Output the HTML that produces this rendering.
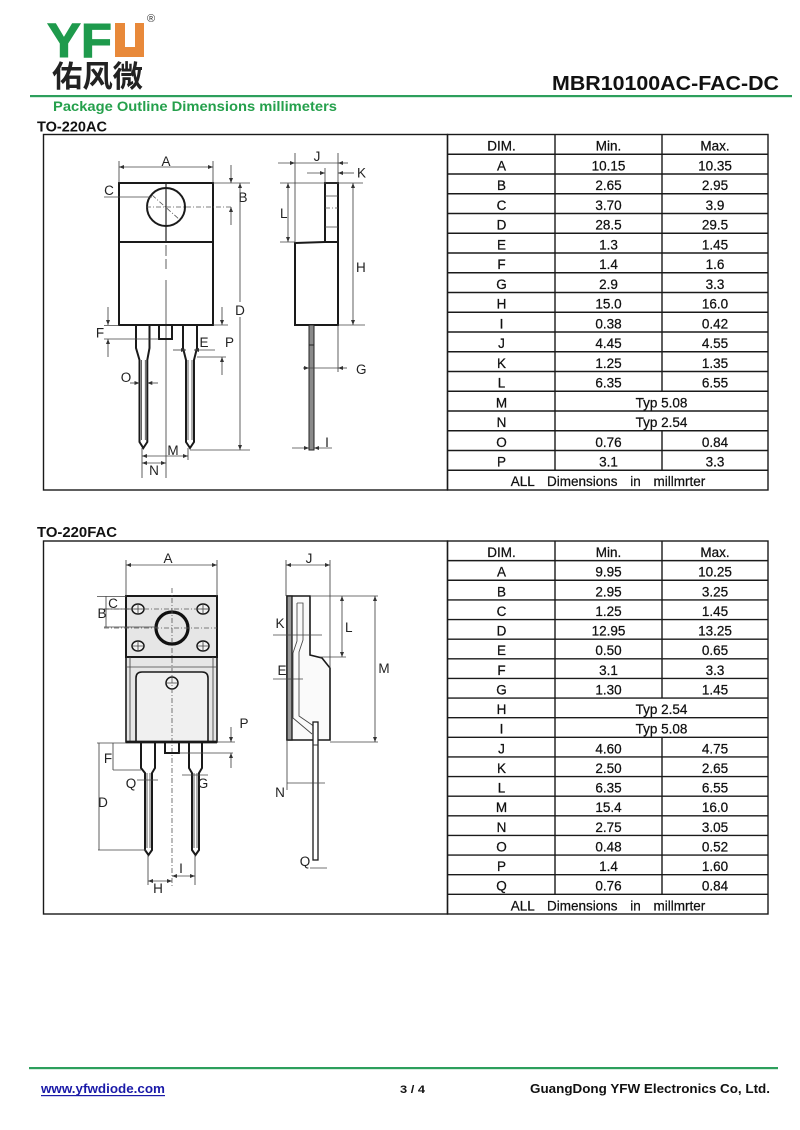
<!DOCTYPE html>
<html><head><meta charset="utf-8"><style>
html,body{margin:0;padding:0;background:#fff;}
svg{display:block;}
.o{fill:none;stroke:#1a1a1a;stroke-width:2}
.t{fill:none;stroke:#444;stroke-width:0.85}
.dd{fill:none;stroke:#555;stroke-width:0.8;stroke-dasharray:5 2 1 2}
.l{font-family:"Liberation Sans",Arial,sans-serif;font-size:13.5px;fill:#222;text-anchor:middle}
.ls{font-family:"Liberation Sans",Arial,sans-serif;font-size:13.5px;fill:#222}
.c{font-family:"Liberation Sans",Arial,sans-serif;font-size:13.5px;fill:#111;stroke:#111;stroke-width:0.25;text-anchor:middle}
.g{fill:none;stroke:#1a1a1a;stroke-width:1.4}
</style></head><body>
<svg width="800" height="1130" viewBox="0 0 800 1130" xmlns="http://www.w3.org/2000/svg">
<defs>
<marker id="a" viewBox="0 0 10 10" refX="10" refY="5" markerUnits="userSpaceOnUse" markerWidth="6" markerHeight="5" orient="auto-start-reverse"><path d="M0,1 L10,5 L0,9 z" fill="#333"/></marker>
</defs>
<rect width="800" height="1130" fill="#fff"/>

<!-- Header -->
<text x="47" y="57" font-family="Liberation Sans,Arial,sans-serif" font-size="48" font-weight="bold" fill="#1e9a4c" stroke="#1e9a4c" stroke-width="1" textLength="65" lengthAdjust="spacingAndGlyphs">YF</text>
<path d="M115,23 H125 V47 H135 V23 H144 V57 H115 Z" fill="#e8893a"/>
<text x="147" y="22" font-family="Liberation Sans,sans-serif" font-size="11" fill="#333">®</text>
<text x="52" y="87" font-family="'Liberation Sans','Noto Sans CJK SC',sans-serif" font-size="30" font-weight="bold" fill="#222" textLength="91" lengthAdjust="spacingAndGlyphs">佑风微</text>
<text x="779" y="90" text-anchor="end" font-family="Liberation Sans,Arial,sans-serif" font-size="20" font-weight="bold" fill="#111" textLength="227" lengthAdjust="spacingAndGlyphs">MBR10100AC-FAC-DC</text>
<rect x="30" y="95" width="762" height="2.2" fill="#2d9f5c"/>
<text x="53" y="111" font-family="Liberation Sans,Arial,sans-serif" font-size="14" font-weight="bold" fill="#25a04c" textLength="284" lengthAdjust="spacingAndGlyphs">Package Outline Dimensions millimeters</text>
<text x="37" y="131.5" font-family="Liberation Sans,Arial,sans-serif" font-size="14.5" font-weight="bold" fill="#111" textLength="70" lengthAdjust="spacingAndGlyphs">TO-220AC</text>
<text x="37" y="537" font-family="Liberation Sans,Arial,sans-serif" font-size="14.5" font-weight="bold" fill="#111" textLength="80" lengthAdjust="spacingAndGlyphs">TO-220FAC</text>

<!-- Boxes -->
<rect class="g" x="43.5" y="134.5" width="404" height="355.5"/>
<rect class="g" x="43.5" y="541" width="404" height="373"/>

<!-- ===== Drawing 1 front ===== -->
<rect class="o" x="119" y="183" width="94" height="59"/>
<rect class="o" x="119" y="242" width="94" height="83" stroke-width="2.8"/>
<circle class="o" cx="166" cy="207" r="19"/>
<line x1="166" y1="183" x2="166" y2="242" stroke="#222" stroke-width="1.2"/>
<path class="t" d="M166,245 V256 M166,259 V269 M166,280 V478"/>
<line class="dd" x1="152" y1="195" x2="180" y2="220"/>
<line class="dd" x1="146" y1="207" x2="232" y2="207"/>
<path class="o" stroke-width="1.6" d="M136,325 V348 L139.5,360 V442 L143.3,448 L147.3,442 V360 L149.5,348 V325"/>
<path class="t" stroke-width="1.1" d="M141.5,360 V440 M145.3,360 V440"/>
<path class="o" stroke-width="1.6" d="M183,325 V348 L186,360 V442 L190,448 L194,442 V360 L197,348 V325"/>
<path class="t" stroke-width="1.1" d="M188,360 V440 M192,360 V440"/>
<rect class="o" stroke-width="1.6" x="159" y="325" width="13" height="14"/>
<!-- A -->
<path class="t" d="M119,161 V183 M213,161 V183"/>
<line class="t" x1="119" y1="167" x2="213" y2="167" marker-start="url(#a)" marker-end="url(#a)"/>
<text class="l" x="166" y="166">A</text>
<!-- C -->
<line class="t" x1="104" y1="197" x2="152" y2="197"/>
<text class="l" x="109" y="195">C</text>
<!-- B -->
<path class="t" d="M213,183 H250"/>
<line class="t" x1="231" y1="165" x2="231" y2="183" marker-end="url(#a)"/>
<line class="t" x1="231" y1="225" x2="231" y2="207" marker-end="url(#a)"/>
<text class="l" x="243" y="202">B</text>
<!-- D -->
<line class="t" x1="240" y1="183" x2="240" y2="450" marker-start="url(#a)" marker-end="url(#a)"/>
<rect x="234" y="302" width="12" height="15" fill="#fff"/>
<text class="l" x="240" y="315">D</text>
<path class="t" d="M190,450 H250"/>
<!-- F -->
<path class="t" d="M104,325.5 H119 M104,339 H159"/>
<line class="t" x1="108" y1="307" x2="108" y2="325" marker-end="url(#a)"/>
<line class="t" x1="108" y1="357" x2="108" y2="339" marker-end="url(#a)"/>
<text class="l" x="100" y="337.5">F</text>
<!-- E -->
<line class="t" x1="173" y1="350" x2="186" y2="350" marker-end="url(#a)"/>
<line class="t" x1="215" y1="350" x2="194" y2="350" marker-end="url(#a)"/>
<text class="l" x="204" y="347">E</text>
<!-- P -->
<path class="t" d="M213,325 H228 M197,357 H226"/>
<line class="t" x1="222" y1="307" x2="222" y2="325" marker-end="url(#a)"/>
<line class="t" x1="222" y1="375" x2="222" y2="357" marker-end="url(#a)"/>
<text class="ls" x="225" y="347">P</text>
<!-- O -->
<line class="t" x1="130" y1="383" x2="139.5" y2="383" marker-end="url(#a)"/>
<line class="t" x1="158" y1="383" x2="147.3" y2="383" marker-end="url(#a)"/>
<text class="l" x="126" y="382">O</text>
<!-- M N -->
<path class="t" d="M142,448 V478 M188,448 V460"/>
<line class="t" x1="142" y1="456" x2="188" y2="456" marker-start="url(#a)" marker-end="url(#a)"/>
<text class="l" x="173" y="455">M</text>
<line class="t" x1="142" y1="463" x2="166" y2="463" marker-start="url(#a)" marker-end="url(#a)"/>
<text class="l" x="154" y="475">N</text>

<!-- ===== Drawing 1 side ===== -->
<rect class="o" x="325" y="183" width="13" height="59"/>
<path class="t" d="M325,196 H338 M325,227 H338"/>
<line class="dd" x1="325" y1="208" x2="338" y2="208"/>
<path class="o" d="M295,243 L325,242 H338 V325 H295 Z"/>
<rect x="309" y="325" width="5" height="125" fill="#8a8a8a" stroke="#222" stroke-width="1"/>
<line x1="309" y1="345" x2="314" y2="345" stroke="#222" stroke-width="1"/>
<!-- J -->
<path class="t" d="M295,153 V243 M338,153 V183"/>
<line class="t" x1="278" y1="163" x2="295" y2="163" marker-end="url(#a)"/>
<line class="t" x1="348" y1="163" x2="338" y2="163" marker-end="url(#a)"/>
<line class="t" x1="295" y1="163" x2="338" y2="163"/>
<text class="l" x="317" y="161">J</text>
<!-- K -->
<path class="t" d="M325,168 V183"/>
<line class="t" x1="307" y1="173" x2="325" y2="173" marker-end="url(#a)"/>
<line class="t" x1="354" y1="173" x2="338" y2="173" marker-end="url(#a)"/>
<text class="ls" x="357" y="177.5">K</text>
<!-- L -->
<path class="t" d="M280,183 H363 M280,242 H295"/>
<line class="t" x1="288" y1="183" x2="288" y2="242" marker-start="url(#a)" marker-end="url(#a)"/>
<text class="ls" x="287.5" y="218" text-anchor="end">L</text>
<!-- H -->
<line class="t" x1="353" y1="183" x2="353" y2="325" marker-start="url(#a)" marker-end="url(#a)"/>
<path class="t" d="M338,325 H365"/>
<text class="ls" x="356" y="272">H</text>
<!-- G -->
<path class="t" d="M338,325 V372"/>
<line class="t" x1="303" y1="368" x2="309" y2="368" marker-end="url(#a)"/>
<line class="t" x1="347" y1="368" x2="338" y2="368" marker-end="url(#a)"/>
<line class="t" x1="309" y1="368" x2="338" y2="368"/>
<text class="ls" x="356" y="374">G</text>
<!-- I -->
<line class="t" x1="292" y1="448" x2="309" y2="448" marker-end="url(#a)"/>
<line class="t" x1="332" y1="448" x2="314" y2="448" marker-end="url(#a)"/>
<text class="l" x="327" y="447">I</text>

<!-- ===== Drawing 2 front ===== -->
<rect x="126" y="596" width="91" height="146" fill="#e6e6e6" stroke="#1a1a1a" stroke-width="1.6"/>
<rect class="o" x="126" y="596" width="91" height="61" stroke-width="2.8"/>
<path class="t" d="M126,667 H217 M130,657 V742 M213,657 V742"/>
<path d="M136,742 V678 Q136,672 142,672 H202 Q208,672 208,678 V742" fill="#f0f0f0" stroke="#1a1a1a" stroke-width="1.6"/>
<line x1="126" y1="742" x2="217" y2="742" stroke="#1a1a1a" stroke-width="2.8"/>
<g fill="#f3f3f3" stroke="#1a1a1a" stroke-width="1.5">
<ellipse cx="138" cy="609" rx="6" ry="5"/><ellipse cx="203" cy="609" rx="6" ry="5"/>
<ellipse cx="138" cy="646" rx="6" ry="5"/><ellipse cx="203" cy="646" rx="6" ry="5"/>
<circle cx="172" cy="683" r="6"/>
</g>
<path class="t" d="M133,609 H143 M138,605 V613 M198,609 H208 M203,605 V613 M133,646 H143 M138,642 V650 M198,646 H208 M203,642 V650 M167,683 H177"/>
<circle cx="172" cy="628" r="16" fill="none" stroke="#111" stroke-width="3.2"/>
<line class="dd" x1="172" y1="588" x2="172" y2="888"/>
<line class="dd" x1="104" y1="628" x2="217" y2="628"/>
<line class="dd" x1="104" y1="609" x2="210" y2="609"/>
<path class="o" stroke-width="1.6" d="M141,742 V768 L145,773 V850 L148.5,855 L152,850 V773 L155,768 V742"/>
<path class="t" d="M147,773 V848 M150,773 V848"/>
<path class="o" stroke-width="1.6" d="M189,742 V768 L192,773 V850 L195.5,855 L199,850 V773 L202,768 V742"/>
<path class="t" d="M194,773 V848 M197,773 V848"/>
<rect class="o" stroke-width="1.6" x="165" y="742" width="14" height="11"/>
<!-- A -->
<path class="t" d="M126,560 V596 M217,560 V596"/>
<line class="t" x1="126" y1="565" x2="217" y2="565" marker-start="url(#a)" marker-end="url(#a)"/>
<text class="l" x="168" y="563">A</text>
<!-- C B -->
<path class="t" d="M97,596.5 H126 M104,609 H132 M104,627 H157 M106,596 V627"/>
<text class="l" x="113" y="608">C</text>
<text class="l" x="102" y="618">B</text>
<!-- F D -->
<path class="t" d="M97,743 H126 M113,770 H141 M98,850 H146 M113,743 V770 M99,743 V850"/>
<text class="l" x="108" y="763">F</text>
<text class="l" x="103" y="807">D</text>
<!-- Q G -->
<line class="t" x1="137" y1="780" x2="158" y2="780"/>
<text class="l" x="131" y="788">Q</text>
<line class="t" x1="182" y1="775" x2="208" y2="775"/>
<text class="l" x="203" y="788">G</text>
<!-- P -->
<path class="t" d="M217,742 H235 M179,753 H233"/>
<line class="t" x1="231" y1="727" x2="231" y2="742" marker-end="url(#a)"/>
<line class="t" x1="231" y1="768" x2="231" y2="753" marker-end="url(#a)"/>
<text class="l" x="244" y="728">P</text>
<!-- H I -->
<path class="t" d="M148,855 V885 M195,855 V885"/>
<line class="t" x1="148" y1="881" x2="172" y2="881" marker-start="url(#a)" marker-end="url(#a)"/>
<line class="t" x1="172" y1="876" x2="195" y2="876" marker-start="url(#a)" marker-end="url(#a)"/>
<text class="l" x="158" y="893">H</text>
<text class="l" x="181" y="873">I</text>

<!-- ===== Drawing 2 side ===== -->
<path d="M287,596 H310 V655 L322,658 L330,668 V740 H287 Z" fill="#fafafa" stroke="#1a1a1a" stroke-width="1.6"/>
<rect x="287" y="596" width="5" height="144" fill="#9a9a9a" stroke="#1a1a1a" stroke-width="1.3"/>
<path class="t" stroke-width="1" d="M297,603 H303 V640 L299,652 V716 L318,729 M297,603 V641 L293,653 V718 L312,734"/>
<rect x="313" y="722" width="5" height="138" fill="#fff" stroke="#1a1a1a" stroke-width="1.3"/>
<line x1="313" y1="745" x2="318" y2="745" stroke="#333" stroke-width="1"/>
<!-- J -->
<path class="t" d="M286,560 V596 M330,560 V668"/>
<line class="t" x1="286" y1="565" x2="330" y2="565" marker-start="url(#a)" marker-end="url(#a)"/>
<text class="l" x="309" y="563">J</text>
<!-- L -->
<line class="t" x1="342" y1="596" x2="342" y2="657" marker-start="url(#a)" marker-end="url(#a)"/>
<path class="t" d="M320,657 H346"/>
<text class="ls" x="345" y="632">L</text>
<!-- M -->
<path class="t" d="M310,596 H378 M330,742 H378"/>
<line class="t" x1="375" y1="596" x2="375" y2="742" marker-start="url(#a)" marker-end="url(#a)"/>
<text class="l" x="384" y="673">M</text>
<!-- K E -->
<line class="t" x1="273" y1="635" x2="322" y2="635"/>
<text class="l" x="280" y="628">K</text>
<line class="t" x1="273" y1="679" x2="303" y2="679"/>
<text class="l" x="282" y="675">E</text>
<!-- N -->
<path class="t" d="M287,740 V790"/>
<line class="t" x1="287" y1="783" x2="325" y2="783"/>
<text class="l" x="280" y="797">N</text>
<!-- Q -->
<line class="t" x1="310" y1="868" x2="327" y2="868"/>
<text class="l" x="305" y="866">Q</text>

<!-- ===== Table 1 ===== -->
<g class="g">
<rect x="447.5" y="134.5" width="320.5" height="355.5"/>
<path d="M447.5,154.25 H768 M447.5,174 H768 M447.5,193.75 H768 M447.5,213.5 H768 M447.5,233.25 H768 M447.5,253 H768 M447.5,272.75 H768 M447.5,292.5 H768 M447.5,312.25 H768 M447.5,332 H768 M447.5,351.75 H768 M447.5,371.5 H768 M447.5,391.25 H768 M447.5,411 H768 M447.5,430.75 H768 M447.5,450.5 H768 M447.5,470.25 H768"/>
<path d="M555,134.5 V470.25 M662,134.5 V391.25 M662,430.75 V470.25"/>
</g>
<g class="c">
<text x="501.5" y="150.5">DIM.</text><text x="608.5" y="150.5">Min.</text><text x="715" y="150.5">Max.</text>
<text x="501.5" y="170.25">A</text><text x="608.5" y="170.25">10.15</text><text x="715" y="170.25">10.35</text>
<text x="501.5" y="190">B</text><text x="608.5" y="190">2.65</text><text x="715" y="190">2.95</text>
<text x="501.5" y="209.75">C</text><text x="608.5" y="209.75">3.70</text><text x="715" y="209.75">3.9</text>
<text x="501.5" y="229.5">D</text><text x="608.5" y="229.5">28.5</text><text x="715" y="229.5">29.5</text>
<text x="501.5" y="249.25">E</text><text x="608.5" y="249.25">1.3</text><text x="715" y="249.25">1.45</text>
<text x="501.5" y="269">F</text><text x="608.5" y="269">1.4</text><text x="715" y="269">1.6</text>
<text x="501.5" y="288.75">G</text><text x="608.5" y="288.75">2.9</text><text x="715" y="288.75">3.3</text>
<text x="501.5" y="308.5">H</text><text x="608.5" y="308.5">15.0</text><text x="715" y="308.5">16.0</text>
<text x="501.5" y="328.25">I</text><text x="608.5" y="328.25">0.38</text><text x="715" y="328.25">0.42</text>
<text x="501.5" y="348">J</text><text x="608.5" y="348">4.45</text><text x="715" y="348">4.55</text>
<text x="501.5" y="367.75">K</text><text x="608.5" y="367.75">1.25</text><text x="715" y="367.75">1.35</text>
<text x="501.5" y="387.5">L</text><text x="608.5" y="387.5">6.35</text><text x="715" y="387.5">6.55</text>
<text x="501.5" y="407.25">M</text><text x="661.5" y="407.25">Typ 5.08</text>
<text x="501.5" y="427">N</text><text x="661.5" y="427">Typ 2.54</text>
<text x="501.5" y="446.75">O</text><text x="608.5" y="446.75">0.76</text><text x="715" y="446.75">0.84</text>
<text x="501.5" y="466.5">P</text><text x="608.5" y="466.5">3.1</text><text x="715" y="466.5">3.3</text>
<text x="608" y="486" word-spacing="9">ALL Dimensions in millmrter</text>
</g>

<!-- ===== Table 2 ===== -->
<g class="g">
<rect x="447.5" y="541" width="320.5" height="373"/>
<path d="M447.5,560.63 H768 M447.5,580.26 H768 M447.5,599.89 H768 M447.5,619.52 H768 M447.5,639.15 H768 M447.5,658.78 H768 M447.5,678.41 H768 M447.5,698.04 H768 M447.5,717.67 H768 M447.5,737.3 H768 M447.5,756.93 H768 M447.5,776.56 H768 M447.5,796.19 H768 M447.5,815.82 H768 M447.5,835.45 H768 M447.5,855.08 H768 M447.5,874.71 H768 M447.5,894.34 H768"/>
<path d="M555,541 V894.34 M662,541 V698.04 M662,737.3 V894.34"/>
</g>
<g class="c">
<text x="501.5" y="557">DIM.</text><text x="608.5" y="557">Min.</text><text x="715" y="557">Max.</text>
<text x="501.5" y="576.6">A</text><text x="608.5" y="576.6">9.95</text><text x="715" y="576.6">10.25</text>
<text x="501.5" y="596.3">B</text><text x="608.5" y="596.3">2.95</text><text x="715" y="596.3">3.25</text>
<text x="501.5" y="615.9">C</text><text x="608.5" y="615.9">1.25</text><text x="715" y="615.9">1.45</text>
<text x="501.5" y="635.5">D</text><text x="608.5" y="635.5">12.95</text><text x="715" y="635.5">13.25</text>
<text x="501.5" y="655.2">E</text><text x="608.5" y="655.2">0.50</text><text x="715" y="655.2">0.65</text>
<text x="501.5" y="674.8">F</text><text x="608.5" y="674.8">3.1</text><text x="715" y="674.8">3.3</text>
<text x="501.5" y="694.4">G</text><text x="608.5" y="694.4">1.30</text><text x="715" y="694.4">1.45</text>
<text x="501.5" y="714">H</text><text x="661.5" y="714">Typ 2.54</text>
<text x="501.5" y="733.7">I</text><text x="661.5" y="733.7">Typ 5.08</text>
<text x="501.5" y="753.3">J</text><text x="608.5" y="753.3">4.60</text><text x="715" y="753.3">4.75</text>
<text x="501.5" y="772.9">K</text><text x="608.5" y="772.9">2.50</text><text x="715" y="772.9">2.65</text>
<text x="501.5" y="792.6">L</text><text x="608.5" y="792.6">6.35</text><text x="715" y="792.6">6.55</text>
<text x="501.5" y="812.2">M</text><text x="608.5" y="812.2">15.4</text><text x="715" y="812.2">16.0</text>
<text x="501.5" y="831.8">N</text><text x="608.5" y="831.8">2.75</text><text x="715" y="831.8">3.05</text>
<text x="501.5" y="851.5">O</text><text x="608.5" y="851.5">0.48</text><text x="715" y="851.5">0.52</text>
<text x="501.5" y="871.1">P</text><text x="608.5" y="871.1">1.4</text><text x="715" y="871.1">1.60</text>
<text x="501.5" y="890.7">Q</text><text x="608.5" y="890.7">0.76</text><text x="715" y="890.7">0.84</text>
<text x="608" y="910.3" word-spacing="9">ALL Dimensions in millmrter</text>
</g>

<!-- Footer -->
<rect x="29" y="1067" width="749" height="2.2" fill="#2d9f5c"/>
<text x="41" y="1093" font-family="Liberation Sans,Arial,sans-serif" font-size="13" font-weight="bold" fill="#1a1aa8" textLength="124" lengthAdjust="spacingAndGlyphs">www.yfwdiode.com</text>
<rect x="41" y="1095" width="124" height="1.2" fill="#1a1aa8"/>
<text x="400" y="1093" font-family="Liberation Sans,Arial,sans-serif" font-size="11" font-weight="bold" fill="#111" textLength="25" lengthAdjust="spacingAndGlyphs">3 / 4</text>
<text x="530" y="1093" font-family="Liberation Sans,Arial,sans-serif" font-size="13" font-weight="bold" fill="#111" textLength="240" lengthAdjust="spacingAndGlyphs">GuangDong YFW Electronics Co, Ltd.</text>
</svg>
</body></html>
